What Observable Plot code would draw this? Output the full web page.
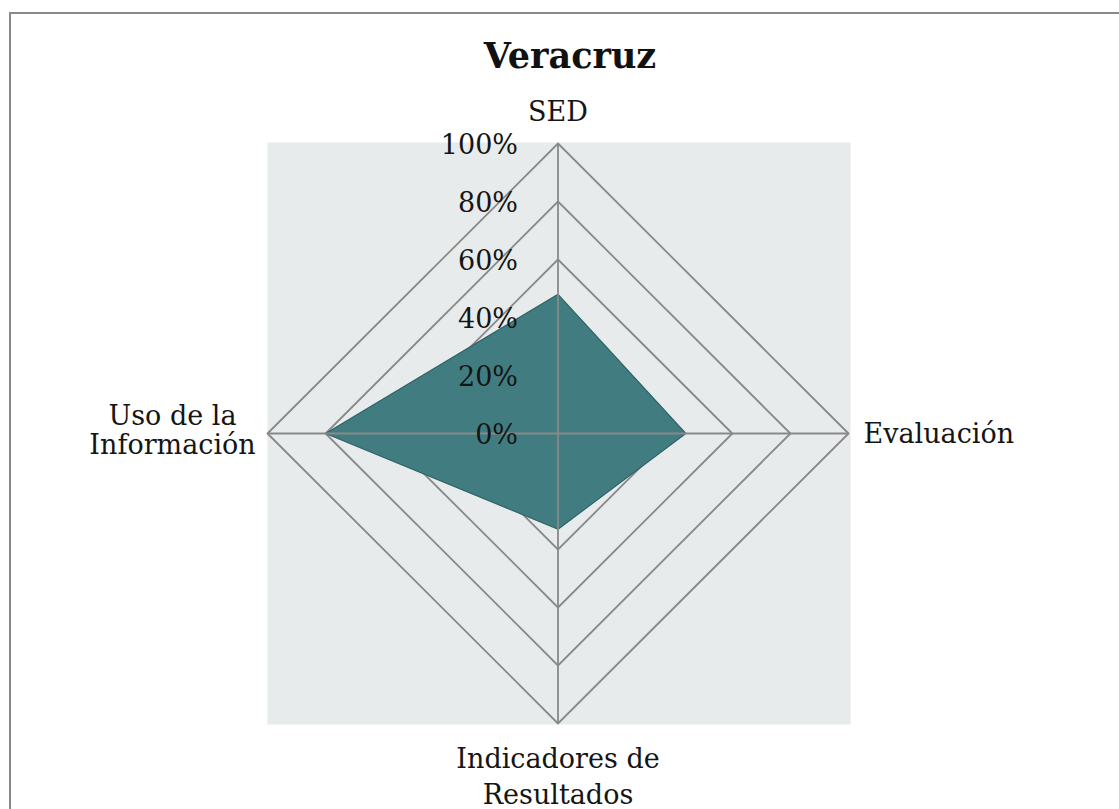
<!DOCTYPE html>
<html><head><meta charset="utf-8">
<script src="https://cdn.jsdelivr.net/npm/d3@7"></script>
<script src="https://cdn.jsdelivr.net/npm/@observablehq/plot@0.6"></script>
<style>
body{margin:0;background:#fff;}
#wrap{position:relative;width:1119px;height:809px;overflow:hidden;font-family:"DejaVu Serif",serif;}
#border{position:absolute;left:9px;top:12px;right:-5px;bottom:-5px;border-left:2px solid #898989;border-top:2px solid #898989;}
#title{position:absolute;top:38px;left:570px;transform:translateX(-50%);font-size:35px;font-weight:bold;line-height:35px;color:#111;white-space:nowrap;}
#chart{position:absolute;left:0;top:80px;}
</style></head>
<body><div id="wrap"><div id="border"></div><div id="title"></div><div id="chart"></div></div>
<script>
const title = "Veracruz";
const categories = ["SED", "Evaluación", "Indicadores de\nResultados", "Uso de la\nInformación"];
const values = [0.48, 0.44, 0.33, 0.80];
const ticks = [0, 0.2, 0.4, 0.6, 0.8, 1];
const tickLabels = ["0%", "20%", "40%", "60%", "80%", "100%"];

document.getElementById("title").textContent = title;

const n = categories.length;
const ang = i => i * 2 * Math.PI / n;
const pt = (i, r) => ({x: r * Math.sin(ang(i)), y: r * Math.cos(ang(i))});

const rings = [];
ticks.filter(t => t > 0).forEach(t => {
  for (let i = 0; i <= n; i++) rings.push({...pt(i % n, t), ring: t});
});
const spokes = categories.map((c, i) => ({x1: 0, y1: 0, x2: pt(i, 1).x, y2: pt(i, 1).y}));
const poly = [];
for (let i = 0; i <= n; i++) poly.push(pt(i % n, values[i % n]));
const cat = categories.map((c, i) => ({label: c, ...pt(i, 1)}));
const tickData = ticks.map((t, i) => ({x: 0, y: t, label: tickLabels[i]}));

const grid = "#898989";
const ink = "#151515";
const fs = 27;

const chart = Plot.plot({
  width: 1119,
  height: 729,
  marginLeft: 267,
  marginRight: 271,
  marginTop: 63,
  marginBottom: 86,
  x: {domain: [-1, 1], axis: null},
  y: {domain: [-1, 1], axis: null},
  style: {fontFamily: "DejaVu Serif", background: "transparent", overflow: "visible"},
  marks: [
    Plot.frame({fill: "#e7ebec", stroke: null, insetRight: -2, insetTop: -1, insetBottom: -1}),
    Plot.line(rings, {x: "x", y: "y", z: "ring", stroke: grid, strokeWidth: 1.8}),
    Plot.line(poly, {x: "x", y: "y", fill: "#417d80", stroke: "#2f6467", strokeWidth: 1.2}),
    Plot.link(spokes, {x1: "x1", y1: "y1", x2: "x2", y2: "y2", stroke: grid, strokeWidth: 1.8}),
    Plot.text(tickData, {x: "x", y: "y", text: "label", textAnchor: "end", dx: -40, dy: 2, fontSize: fs, fill: ink}),
    Plot.text(cat.slice(0, 1), {x: "x", y: "y", text: "label", textAnchor: "middle", dy: -31, fontSize: fs, fill: ink}),
    Plot.text(cat.slice(1, 2), {x: "x", y: "y", text: "label", textAnchor: "start", dx: 15, dy: 1, fontSize: fs, fill: ink}),
    Plot.text(cat.slice(2, 3), {x: "x", y: "y", text: "label", textAnchor: "middle", dy: 51, lineHeight: 1.32, fontSize: fs, fill: ink}),
    Plot.text(cat.slice(3, 4), {x: "x", y: "y", text: "label", textAnchor: "middle", dx: -95, dy: -3, lineHeight: 1.06, fontSize: fs, fill: ink})
  ]
});
document.getElementById("chart").appendChild(chart);
</script>
</body></html>
